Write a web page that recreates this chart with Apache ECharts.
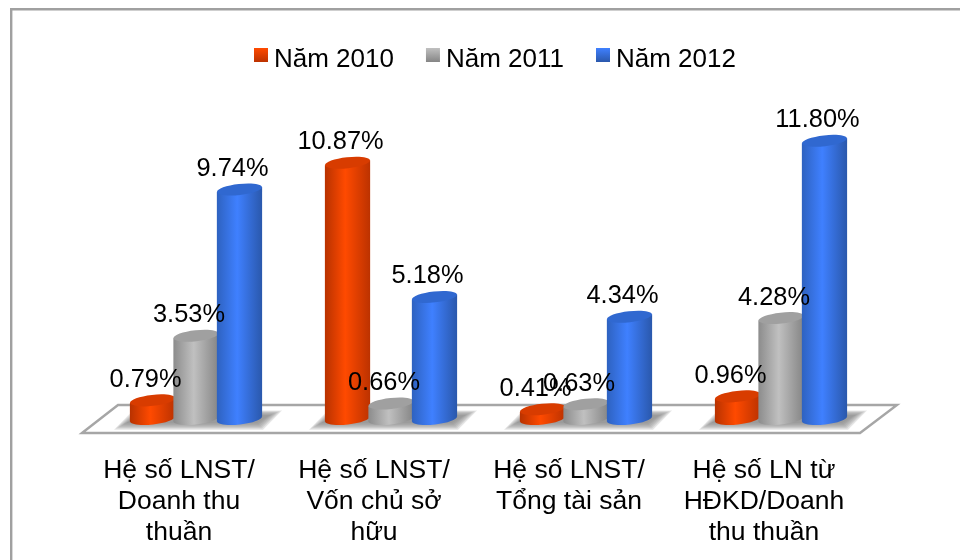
<!DOCTYPE html>
<html>
<head>
<meta charset="utf-8">
<style>
  html, body { margin: 0; padding: 0; background: #fff; }
  #chart { width: 960px; height: 560px; }
</style>
<script src="https://cdn.jsdelivr.net/npm/echarts@6/dist/echarts.min.js"></script>
</head>
<body>
<div id="chart"></div>
<script>
const categories = [
  "Hệ số LNST/\nDoanh thu\nthuần",
  "Hệ số LNST/\nVốn chủ sở\nhữu",
  "Hệ số LNST/\nTổng tài sản",
  "Hệ số LN từ\nHĐKD/Doanh\nthu thuần"
];
const years = ["Năm 2010", "Năm 2011", "Năm 2012"];
const values2010 = [0.79, 10.87, 0.41, 0.96];
const values2011 = [3.53, 0.66, 0.63, 4.28];
const values2012 = [9.74, 5.18, 4.34, 11.8];
const allValues = [values2010, values2011, values2012];

// side shade, middle highlight, other side, top cap
const shades = [
  ["#b83200", "#ff4a00", "#bc3200", "#d83c00"],
  ["#8c8c8c", "#c0c0c0", "#858585", "#a0a0a0"],
  ["#2e62c0", "#3f80ff", "#2a58ac", "#3068d0"]
];
const FONT = '25.4px "Liberation Sans", Arial, sans-serif';

function sideGradient(c) {
  return new echarts.graphic.LinearGradient(0, 0, 1, 0, [
    { offset: 0, color: c[0] },
    { offset: 0.45, color: c[1] },
    { offset: 1, color: c[2] }
  ]);
}

function legendGradient(c) {
  return new echarts.graphic.LinearGradient(0, 0, 0, 1, [
    { offset: 0, color: c[1] },
    { offset: 1, color: c[2] }
  ]);
}

function cylinderSeries(idx) {
  return {
    name: years[idx],
    type: "custom",
    z: 3 + idx,
    data: allValues[idx].map((v, i) => [i, v]),
    encode: { x: 0, y: 1 },
    renderItem(params, api) {
      const top = api.coord([api.value(0), api.value(1)]);
      const base = api.coord([api.value(0), 0]);
      const slot = api.size([1, 0])[0];
      const w = slot * 0.232;
      const cx = top[0] + (idx - 1) * slot * 0.223;
      const rx = w / 2, ry = 5.5, tilt = 2.5;
      const side = sideGradient(shades[idx]);
      const ellipse = (cy, fill) => ({
        type: "ellipse",
        x: cx, y: cy,
        rotation: 0.11,
        shape: { cx: 0, cy: 0, rx: rx, ry: ry },
        style: { fill: fill }
      });
      return {
        type: "group",
        children: [
          ellipse(base[1], side),
          {
            type: "polygon",
            shape: { points: [
              [cx - rx, top[1] + tilt], [cx + rx, top[1] - tilt],
              [cx + rx, base[1] - tilt], [cx - rx, base[1] + tilt]
            ] },
            style: { fill: side }
          },
          ellipse(top[1], shades[idx][3])
        ]
      };
    }
  };
}

function labelSeries(idx) {
  return {
    type: "custom",
    z: 10,
    silent: true,
    data: allValues[idx].map((v, i) => [i, v]),
    encode: { x: 0, y: 1 },
    renderItem(params, api) {
      const top = api.coord([api.value(0), api.value(1)]);
      const slot = api.size([1, 0])[0];
      return {
        type: "text",
        style: {
          x: top[0] + (idx - 1) * slot * 0.223 - 7,
          y: top[1] - 20.5,
          text: api.value(1).toFixed(2) + "%",
          font: FONT,
          fill: "#000",
          align: "center",
          verticalAlign: "middle"
        }
      };
    }
  };
}

const floorSeries = {
  type: "custom",
  z: 1,
  silent: true,
  data: categories.map((c, i) => [i, 0]),
  encode: { x: 0, y: 1 },
  renderItem(params, api) {
    const p = api.coord([api.value(0), 0]);
    const box = params.coordSys;
    const children = [];
    // the slab is drawn once, the soft shadow once per category
    if (params.dataIndex === 0) {
      children.push({
        type: "polygon",
        z2: 0,
        shape: { points: [
          [box.x - 16.5, p[1] + 14], [box.x + 19.5, p[1] - 14],
          [box.x + box.width + 18.5, p[1] - 14], [box.x + box.width - 18.5, p[1] + 14]
        ] },
        style: { fill: "#fff", stroke: "#a6a6a6", lineWidth: 2.4 }
      });
    }
    // nested layers stand in for a blur
    for (let k = 0; k < 7; k++) {
      const g = 7 - k;
      children.push({
        type: "polygon",
        z2: 1 + k,
        shape: { points: [
          [p[0] - 68 - g * 2, p[1] + 3 + g * 1.1], [p[0] + 60 + g, p[1] + 3 + g * 1.1],
          [p[0] + 72 + g * 2, p[1] - 3 - g * 0.8], [p[0] - 56 - g, p[1] - 3 - g * 0.8]
        ] },
        style: { fill: "#808080", opacity: 0.2 }
      });
    }
    return { type: "group", children: children };
  }
};

const chart = echarts.init(document.getElementById("chart"), null, { renderer: "canvas" });
chart.setOption({
  animation: false,
  backgroundColor: "#fff",
  graphic: [
    { type: "rect", shape: { x: 10, y: 8, width: 2.4, height: 552 }, style: { fill: "#a0a0a0" } },
    { type: "rect", shape: { x: 10, y: 8, width: 950, height: 2.4 }, style: { fill: "#a0a0a0" } }
  ],
  legend: {
    top: 42,
    left: 249,
    itemWidth: 14,
    itemHeight: 14,
    itemGap: 32,
    icon: "rect",
    formatter: name => "{a|" + name + "}",
    textStyle: {
      rich: {
        a: {
          fontFamily: '"Liberation Sans", Arial, sans-serif',
          fontSize: 26,
          color: "#000",
          padding: [10, 0, 0, 1]
        }
      }
    },
    data: years.map((y, i) => ({ name: y, itemStyle: { color: legendGradient(shades[i]) } }))
  },
  grid: { left: 98.5, right: 81.5, top: 89, bottom: 141 },
  xAxis: {
    type: "category",
    data: categories,
    axisLine: { show: false },
    axisTick: { show: false },
    axisLabel: {
      interval: 0,
      margin: 36,
      padding: [0, 34, 0, 0],
      fontFamily: '"Liberation Sans", Arial, sans-serif',
      fontSize: 26.5,
      lineHeight: 31,
      color: "#000"
    }
  },
  yAxis: { type: "value", min: 0, max: 14, show: false, splitLine: { show: false } },
  series: [floorSeries, cylinderSeries(0), cylinderSeries(1), cylinderSeries(2),
    labelSeries(0), labelSeries(1), labelSeries(2)]
});
</script>
</body>
</html>
